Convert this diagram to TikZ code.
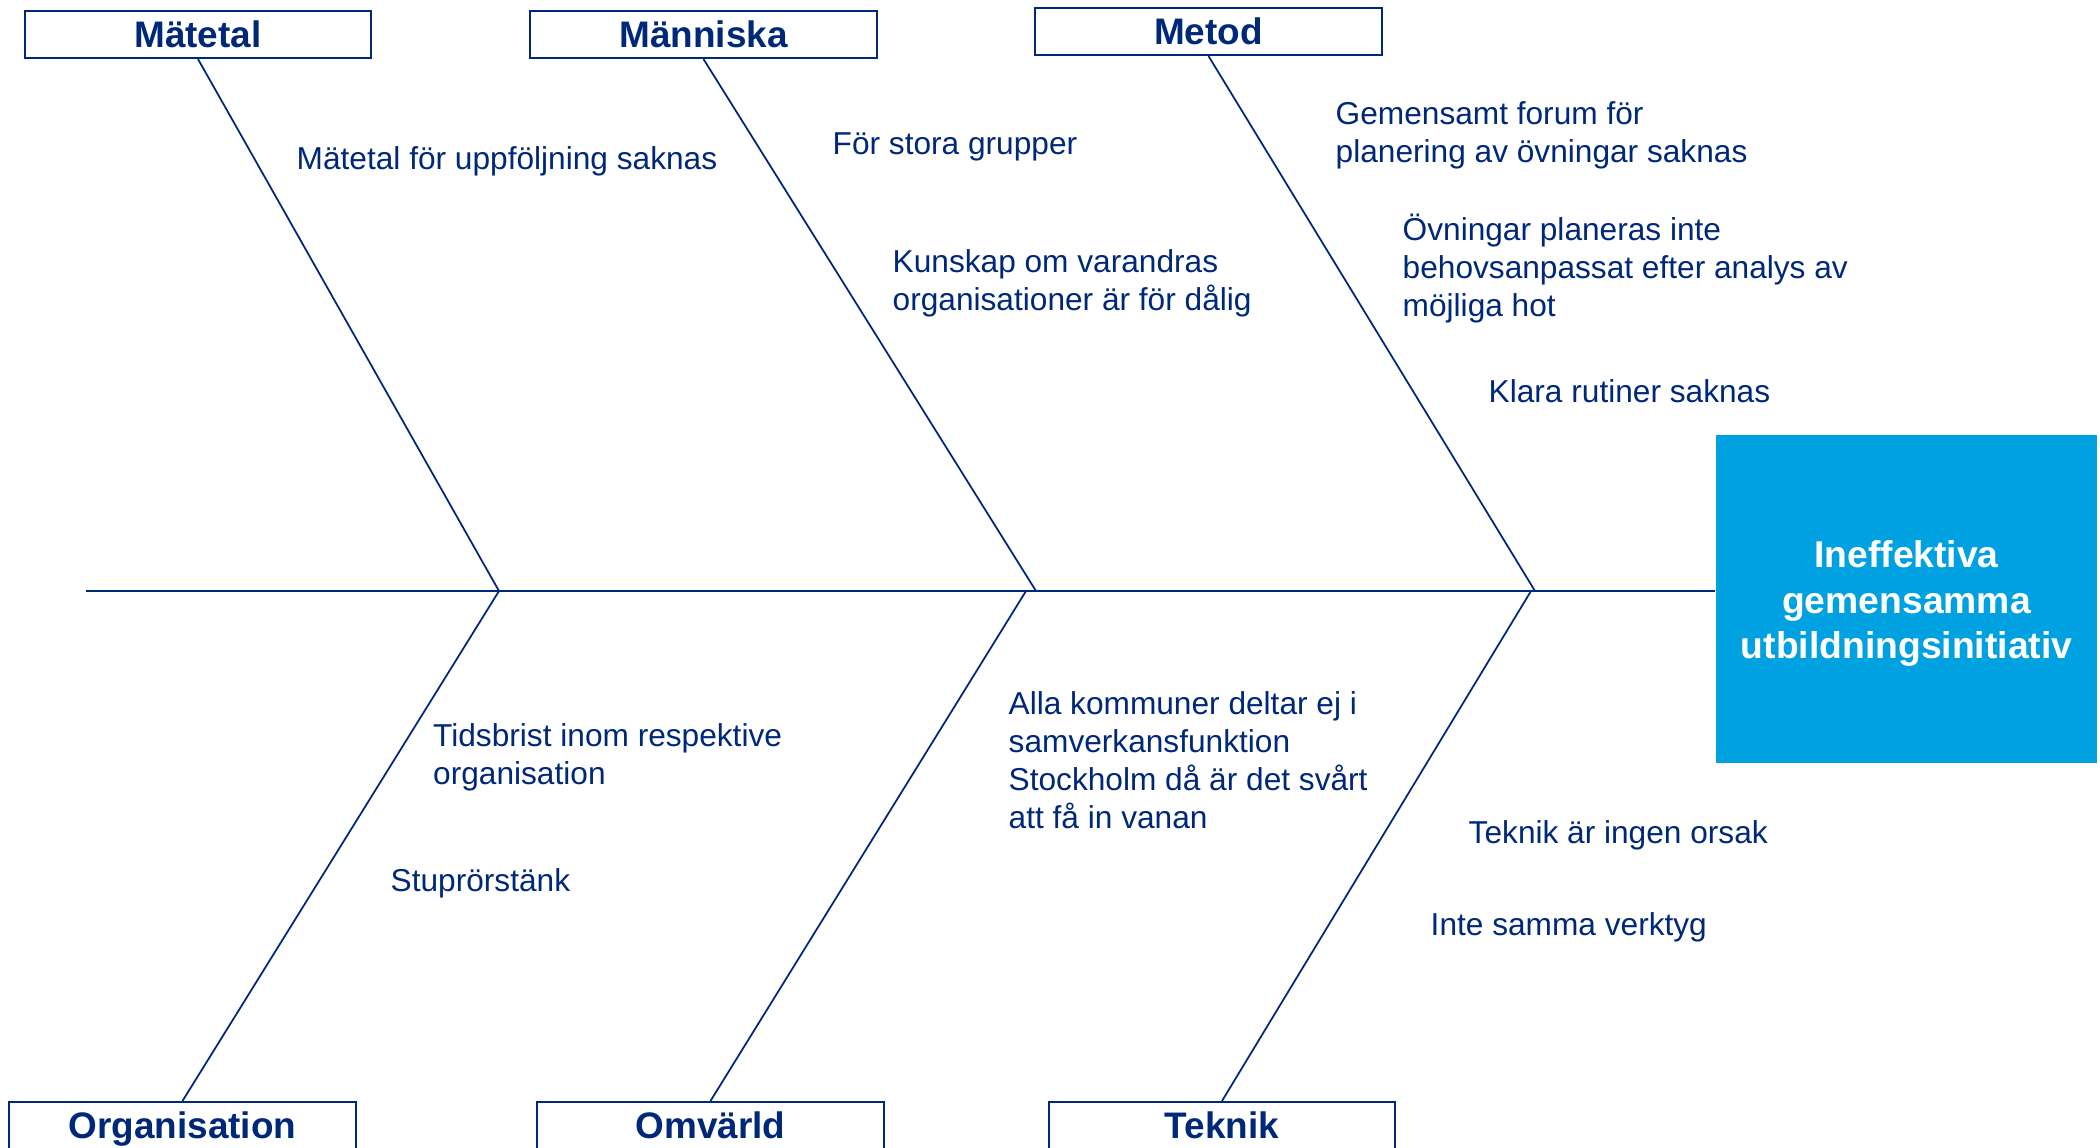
\documentclass[tikz,border=0pt]{standalone}
\usepackage{fontspec}
\setmainfont{Liberation Sans}
\usetikzlibrary{positioning}
\definecolor{fishnavy}{RGB}{0,40,120}
\definecolor{fishcyan}{RGB}{0,161,224}

\begin{document}
\begin{tikzpicture}[
    x=0.01cm, y=-0.01cm,
    catbox/.style={rectangle, draw=fishnavy, line width=0.6pt, fill=white, minimum width=3.46cm, minimum height=0.47cm, inner sep=0pt, text height=0.72em, text depth=0pt, text=fishnavy, font=\bfseries\fontsize{10.5}{12}\selectfont},
    cause/.style={anchor=west, inner sep=0pt, align=left, text=fishnavy, font=\fontsize{9}{10.8}\selectfont},
    effect/.style={rectangle, fill=fishcyan, minimum width=3.81cm, minimum height=3.28cm, inner sep=0pt, align=center, text=white, font=\bfseries\fontsize{10.6}{12.9}\selectfont},
    bone/.style={draw=fishnavy, line width=0.5pt},
]
    \useasboundingbox (0,0) rectangle (2100,1147);

    % categories
    \node[catbox] (matetal) at (198,34.5) {Mätetal};
    \node[catbox] (manniska) at (703.5,34.5) {Människa};
    \node[catbox] (metod) at (1208.5,31.5) {Metod};
    \node[catbox] (organisation) at (182.5,1125.5) {Organisation};
    \node[catbox] (omvarld) at (710.5,1125.5) {Omvärld};
    \node[catbox] (teknik) at (1222,1125.5) {Teknik};

    % effect
    \node[effect] (problem) at (1906.5,599) {};
    \node[effect, fill=none, minimum width=0pt, minimum height=0pt] (problemtext) at (1906.5,603.5) {Ineffektiva\\gemensamma\\utbildningsinitiativ};

    % spine and bones
    \coordinate (tail) at (86,591);
    \coordinate (j1) at (499,591);
    \coordinate (j2top) at (1036,591);
    \coordinate (j2bot) at (1026,591);
    \coordinate (j3top) at (1535,591);
    \coordinate (j3bot) at (1531,591);
    \draw[bone] (tail) -- (tail -| problem.west);
    \draw[bone] (matetal.south) -- (j1);
    \draw[bone] (manniska.south) -- (j2top);
    \draw[bone] (metod.south) -- (j3top);
    \draw[bone] (organisation.north) -- (j1);
    \draw[bone] (omvarld.north) -- (j2bot);
    \draw[bone] (teknik.north) -- (j3bot);

    % causes
    \node[cause] (uppfoljning) at (296,161) {Mätetal för uppföljning saknas};
    \node[cause] (grupper) at (832,147) {För stora grupper};
    \node[cause] (kunskap) at (892,283) {Kunskap om varandras\\organisationer är för dålig};
    \node[cause] (forum) at (1335,135) {Gemensamt forum för\\planering av övningar saknas};
    \node[cause] (ovningar) at (1402,269) {Övningar planeras inte\\behovsanpassat efter analys av\\möjliga hot};
    \node[cause] (rutiner) at (1488,391) {Klara rutiner saknas};
    \node[cause] (tidsbrist) at (432.5,757) {Tidsbrist inom respektive\\organisation};
    \node[cause] (stupror) at (390,883) {Stuprörstänk};
    \node[cause] (kommuner) at (1008,760) {Alla kommuner deltar ej i\\samverkansfunktion\\Stockholm då är det svårt\\att få in vanan};
    \node[cause] (ingenorsak) at (1468,835) {Teknik är ingen orsak};
    \node[cause] (verktyg) at (1430,927) {Inte samma verktyg};
\end{tikzpicture}
\end{document}
